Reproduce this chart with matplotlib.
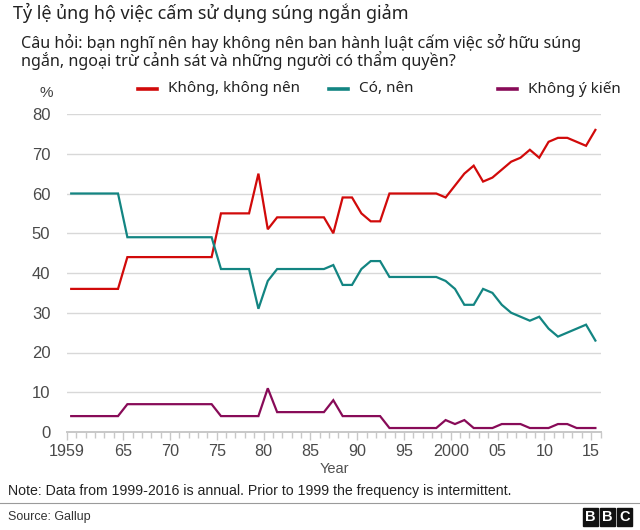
import matplotlib
matplotlib.use("Agg")
import matplotlib.pyplot as plt
import numpy as np

# ---------------- data ----------------
years = list(range(1959, 2016))
khong_nen = [36, 36, 36, 36, 36, 36,
             44, 44, 44, 44, 44, 44, 44, 44, 44, 44,
             55, 55, 55, 55, 65, 51,
             54, 54, 54, 54, 54, 54,
             50, 59, 59, 55, 53, 53,
             60, 60, 60, 60, 60, 60,
             59, 62, 65, 67, 63, 64, 66, 68, 69, 71, 69, 73, 74, 74, 73, 72, 76]
co_nen = [60, 60, 60, 60, 60, 60,
          49, 49, 49, 49, 49, 49, 49, 49, 49, 49,
          41, 41, 41, 41, 31, 38,
          41, 41, 41, 41, 41, 41,
          42, 37, 37, 41, 43, 43,
          39, 39, 39, 39, 39, 39,
          38, 36, 32, 32, 36, 35, 32, 30, 29, 28, 29, 26, 24, 25, 26, 27, 23]
khong_y_kien = [4, 4, 4, 4, 4, 4,
                7, 7, 7, 7, 7, 7, 7, 7, 7, 7,
                4, 4, 4, 4, 4, 11,
                5, 5, 5, 5, 5, 5,
                8, 4, 4, 4, 4, 4,
                1, 1, 1, 1, 1, 1,
                3, 2, 3, 1, 1, 1, 2, 2, 2, 1, 1, 1, 2, 2, 1, 1, 1]
series_names = ["Không, không nên", "Có, nên", "Không ý kiến"]
x_tick_years = [1959, 1965, 1970, 1975, 1980, 1985, 1990, 1995, 2000, 2005, 2010, 2015]
x_tick_labels = ["1959", "65", "70", "75", "80", "85", "90", "95", "2000", "05", "10", "15"]
y_ticks = [0, 10, 20, 30, 40, 50, 60, 70, 80]

title = "Tỷ lệ ủng hộ việc cấm sử dụng súng ngắn giảm"
subtitle1 = "Câu hỏi: bạn nghĩ nên hay không nên ban hành luật cấm việc sở hữu súng"
subtitle2 = "ngắn, ngoại trừ cảnh sát và những người có thẩm quyền?"
note = "Note: Data from 1999-2016 is annual. Prior to 1999 the frequency is intermittent."
source = "Source: Gallup"

# ---------------- style ----------------
W, H = 640, 530
colors = ["#d10a0a", "#138582", "#880b58"]
UI = ["Noto Sans", "DejaVu Sans"]
NUM = ["Liberation Sans", "DejaVu Sans"]

fig = plt.figure(figsize=(W / 100, H / 100), dpi=100)
fig.patch.set_facecolor("white")


def px(x, y):
    return x / W, 1 - y / H


def ftext(x, y, s, **kw):
    fx, fy = px(x, y)
    return fig.text(fx, fy, s, **kw)


left, right, top, bottom = 67, 601, 114, 432
ax = fig.add_axes([left / W, 1 - bottom / H, (right - left) / W, (bottom - top) / H])

xpos = np.array(years) + 0.45
for vals, c in zip([khong_nen, co_nen, khong_y_kien], colors):
    ax.plot(xpos, vals, color=c, lw=1.6, solid_joinstyle="miter", clip_on=False, zorder=3)

ax.set_xlim(1959, 2016.05)
ax.set_ylim(0, 80)
for s in ["top", "right", "left"]:
    ax.spines[s].set_visible(False)
ax.spines["bottom"].set_color("#c8c8c8")
ax.spines["bottom"].set_linewidth(1.4)

ax.set_yticks(y_ticks)
ax.set_yticklabels([str(v) for v in y_ticks], fontfamily=NUM, fontsize=12, color="#4a4a4a")
ax.tick_params(axis="y", length=0, pad=12)
for v in y_ticks[1:]:
    ax.axhline(v, color="#d8d8d8", lw=1.0, zorder=1)

ax.set_xticks(x_tick_years)
ax.set_xticklabels(x_tick_labels, fontfamily=NUM, fontsize=11.6, color="#4a4a4a")
ax.set_xticks(list(range(1959, 2017)), minor=True)
ax.tick_params(axis="x", which="major", length=6, width=1, color="#c8c8c8", pad=3)
ax.tick_params(axis="x", which="minor", length=4, width=1, color="#c8c8c8")
ax.set_xlabel("Year", fontfamily=NUM, fontsize=10.5, color="#505050", labelpad=2)

# texts
ftext(13, 19, title, fontfamily=UI, fontsize=12.9, color="#222222", va="baseline")
ftext(21, 47.5, subtitle1, fontfamily=UI, fontsize=11.6, color="#222222", va="baseline")
ftext(21, 66.5, subtitle2, fontfamily=UI, fontsize=11.6, color="#222222", va="baseline")
ftext(46, 93, "%", fontfamily=NUM, fontsize=11, color="#404040", va="center", ha="center")

# legend
leg_items = [(138, 168), (329, 359), (498, 528)]
for (lx, tx), name, c in zip(leg_items, series_names, colors):
    fig.add_artist(plt.Line2D([lx / W, (lx + 19) / W], [1 - 89 / H, 1 - 89 / H],
                              color=c, lw=2.6, transform=fig.transFigure))
    ftext(tx, 89, name, fontfamily=UI, fontsize=11, color="#222222", va="center")

# footer
ftext(8, 491, note, fontfamily=NUM, fontsize=10.2, color="#222222", va="center")
fig.add_artist(plt.Line2D([0, 1], [1 - 503 / H, 1 - 503 / H], color="#9a9a9a", lw=0.8,
                          transform=fig.transFigure))
ftext(8, 517, source, fontfamily=NUM, fontsize=9, color="#333333", va="center")

# BBC blocks
for i, letter in enumerate("BBC"):
    bx = 583 + i * 17
    fig.add_artist(plt.Rectangle((bx / W, 1 - 526 / H), 15 / W, 18 / H, color="#111111",
                                 transform=fig.transFigure))
    ftext(bx + 7.5, 517, letter, fontfamily=NUM, fontsize=10.5, fontweight="bold",
          color="white", ha="center", va="center")

fig.savefig("out.png", dpi=100)
